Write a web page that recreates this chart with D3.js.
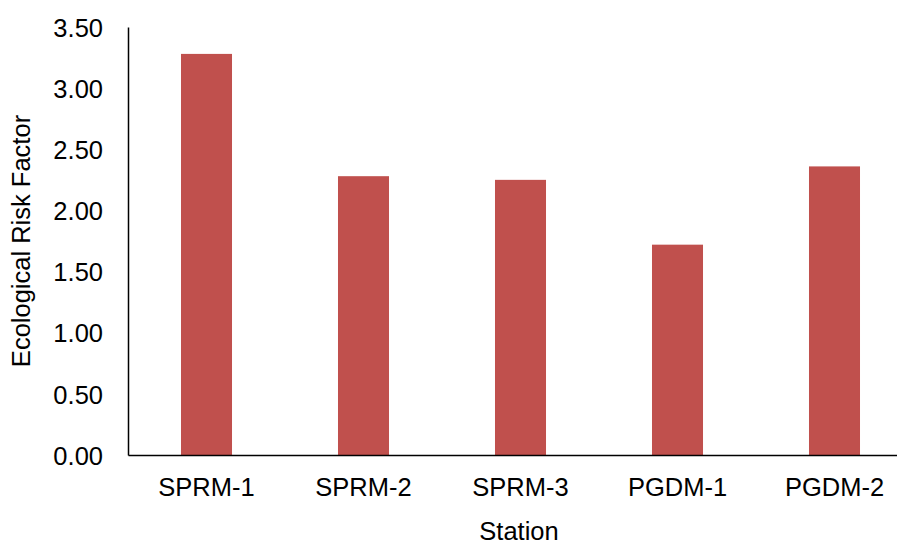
<!DOCTYPE html>
<html>
<head>
<meta charset="utf-8">
<script src="https://cdn.jsdelivr.net/npm/d3@7"></script>
<style>
  html, body { margin: 0; padding: 0; background: #fff; }
  svg { display: block; }
  text { font-family: "Liberation Sans", Arial, sans-serif; fill: #000; }
</style>
</head>
<body>
<svg id="chart" width="897" height="546"></svg>
<script>
const stations = ["SPRM-1", "SPRM-2", "SPRM-3", "PGDM-1", "PGDM-2"];
const riskValues = [3.28, 2.28, 2.25, 1.72, 2.36];
const yTicks = [0, 0.5, 1, 1.5, 2, 2.5, 3, 3.5];
const xTitle = "Station";
const yTitle = "Ecological Risk Factor";

(function () {
const svg = d3.select("#chart");
const mLeft = 128, mRight = 913, mTop = 27, mBottom = 455;
const fs = "25.5px";

const x = d3.scaleBand().domain(stations).range([mLeft, mRight])
  .paddingInner(0.675).paddingOuter(0.3375);
const y = d3.scaleLinear().domain([0, 3.5]).range([mBottom, mTop]);

svg.append("g").selectAll("rect").data(stations).join("rect")
  .attr("x", d => x(d))
  .attr("width", x.bandwidth())
  .attr("y", (d, i) => y(riskValues[i]))
  .attr("height", (d, i) => y(0) - y(riskValues[i]))
  .attr("fill", "#c0504d");

const yAxis = svg.append("g").attr("transform", `translate(${mLeft},0)`)
  .call(d3.axisLeft(y).tickValues(yTicks).tickFormat(d3.format(".2f")).tickSize(0).tickPadding(25));
yAxis.select(".domain").attr("stroke", "#000").attr("stroke-width", 1.5);
yAxis.selectAll("text").style("font-size", fs).attr("dy", "0.36em");

const xAxis = svg.append("g").attr("transform", `translate(0,${mBottom})`)
  .call(d3.axisBottom(x).tickSize(0).tickPadding(23));
xAxis.select(".domain").attr("stroke", "#000").attr("stroke-width", 1.5);
xAxis.selectAll("text").style("font-size", fs);

svg.append("text").attr("x", 519).attr("y", 540).attr("text-anchor", "middle")
  .style("font-size", fs).text(xTitle);
svg.append("text").attr("transform", "translate(30,241) rotate(-90)").attr("text-anchor", "middle")
  .style("font-size", fs).text(yTitle);
})();
</script>
</body>
</html>
